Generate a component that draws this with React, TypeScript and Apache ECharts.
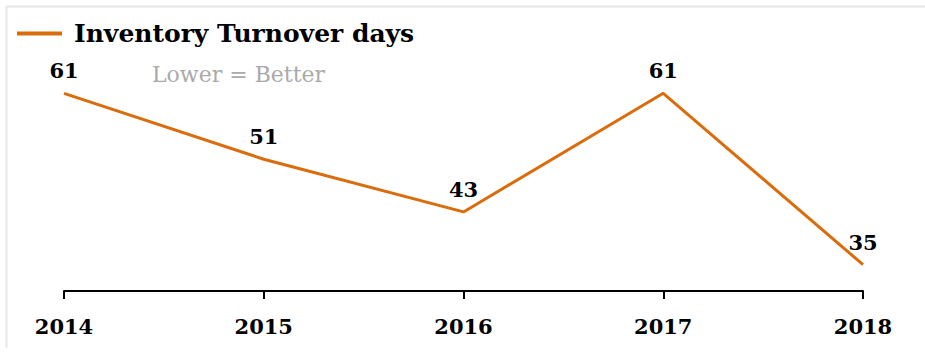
import React, { useEffect, useRef } from "react";
import * as echarts from "echarts";

const years = ["2014", "2015", "2016", "2017", "2018"];
const turnoverDays = [61, 51, 43, 61, 35];
const seriesName = "Inventory Turnover days";
const note = "Lower = Better";

export default function App() {
  const ref = useRef<HTMLDivElement>(null);
  useEffect(() => {
    if (!ref.current) return;
    const chart = echarts.init(ref.current, undefined, { renderer: "svg" });
    const serif = "'DejaVu Serif', Georgia, serif";
    chart.setOption({
      animation: false,
      backgroundColor: "#ffffff",
      legend: {
        left: 17,
        top: 21,
        padding: 0,
        icon: "rect",
        itemWidth: 45,
        itemHeight: 4,
        data: [seriesName],
        textStyle: {
          fontFamily: serif,
          fontWeight: "bold",
          fontSize: 25,
          color: "#000",
          padding: [0, 0, 0, 7],
        },
      },
      graphic: [
        { type: "line", shape: { x1: 6.5, y1: 6, x2: 6.5, y2: 348 }, style: { stroke: "#e8e8e8", lineWidth: 2 } },
        { type: "line", shape: { x1: 6, y1: 6.5, x2: 925, y2: 6.5 }, style: { stroke: "#e8e8e8", lineWidth: 2 } },
        {
          type: "text",
          left: 152,
          top: 63,
          style: { text: note, fontFamily: serif, fontSize: 22, fill: "#aaaaaa" },
        },
      ],
      grid: { left: 64, right: 62, top: 34, bottom: 65 },
      xAxis: {
        type: "category",
        data: years,
        boundaryGap: false,
        axisLine: { lineStyle: { color: "#000", width: 2 } },
        axisTick: { show: true, length: 8, lineStyle: { color: "#000", width: 2 } },
        axisLabel: {
          margin: 25,
          fontFamily: serif,
          fontWeight: "bold",
          fontSize: 21,
          color: "#000",
        },
      },
      yAxis: {
        type: "value",
        min: 31,
        max: 70,
        show: false,
        splitLine: { show: false },
      },
      series: [
        {
          name: seriesName,
          type: "line",
          data: turnoverDays,
          symbol: "circle",
          symbolSize: 0,
          lineStyle: { color: "#DA6C0B", width: 3 },
          itemStyle: { color: "#DA6C0B" },
          label: {
            show: true,
            position: "top",
            distance: 12,
            fontFamily: serif,
            fontWeight: "bold",
            fontSize: 21,
            color: "#000",
          },
        },
      ],
    });
    return () => chart.dispose();
  }, []);
  return (
    <div
      ref={ref}
      style={{ position: "fixed", left: 0, top: 0, width: 925, height: 356 }}
    />
  );
}
